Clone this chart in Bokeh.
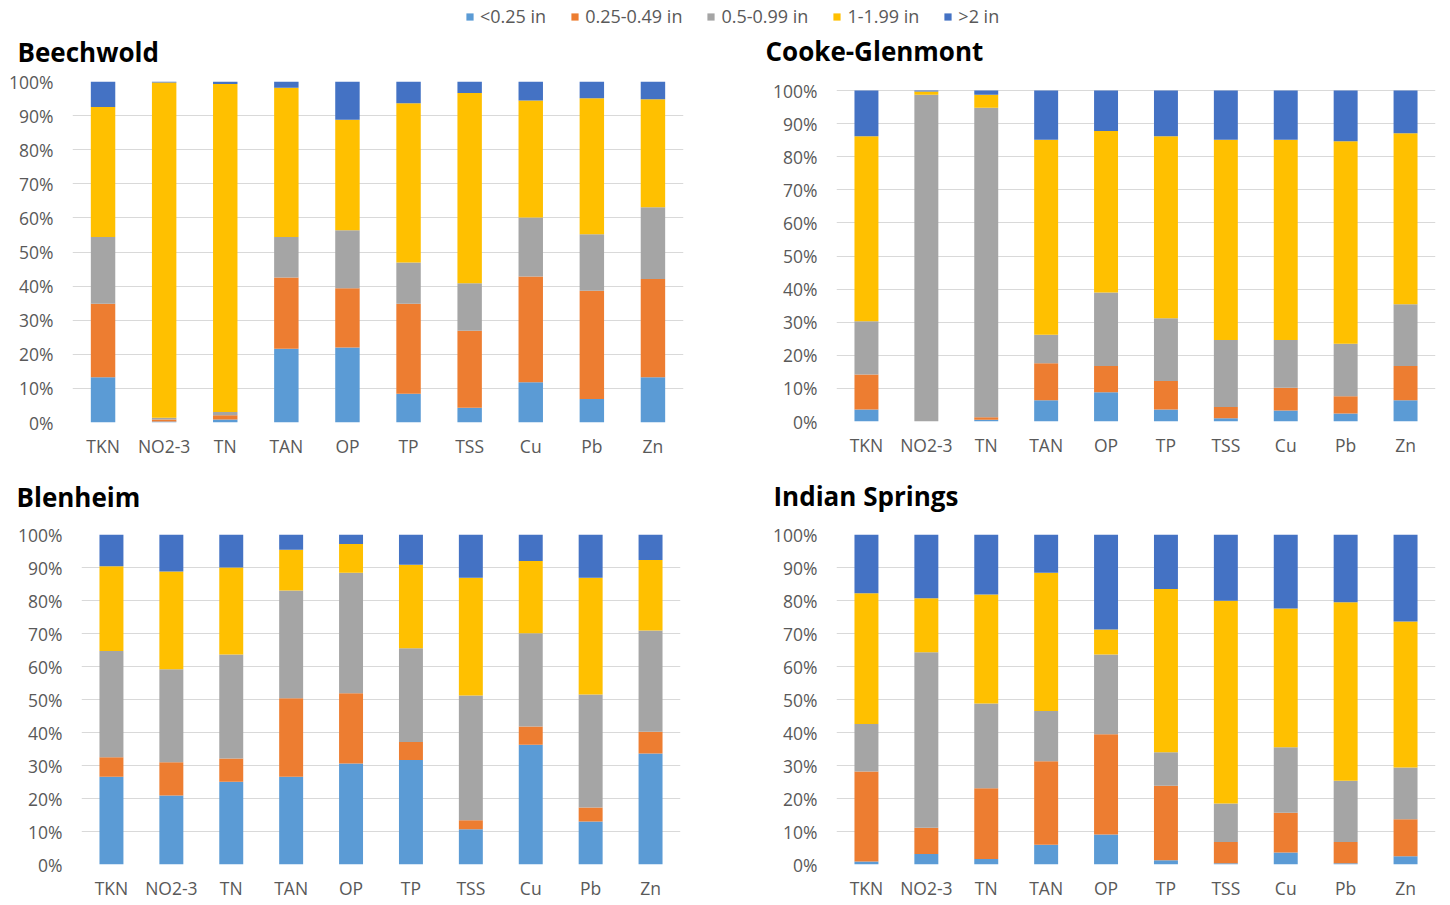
from bokeh.plotting import figure
from bokeh.layouts import column, row
from bokeh.models import (ColumnDataSource, FixedTicker, PrintfTickFormatter, Legend,
                          LegendItem, Label)
from bokeh.embed import file_html
from bokeh.resources import INLINE

params = ["TKN", "NO2-3", "TN", "TAN", "OP", "TP", "TSS", "Cu", "Pb", "Zn"]
bins = ["<0.25 in", "0.25-0.49 in", "0.5-0.99 in", "1-1.99 in", ">2 in"]
colors = ["#5B9BD5", "#ED7D31", "#A5A5A5", "#FFC000", "#4472C4"]
keys = ["b1", "b2", "b3", "b4", "b5"]
titles = ["Beechwold", "Cooke-Glenmont", "Blenheim", "Indian Springs"]

# percent of events per rainfall-depth bin (each parameter sums to ~100)
beechwold = {
    "b1": [13.3, 0.3, 0.9, 21.6, 22.0, 8.4, 4.3, 11.8, 6.9, 13.3],
    "b2": [21.5, 0.6, 1.2, 20.9, 17.4, 26.4, 22.6, 31.0, 31.7, 28.8],
    "b3": [19.6, 0.5, 1.0, 11.9, 17.0, 12.1, 13.9, 17.3, 16.6, 21.0],
    "b4": [38.1, 98.3, 96.2, 43.8, 32.4, 46.7, 55.8, 34.3, 39.9, 31.7],
    "b5": [7.5, 0.3, 0.7, 1.8, 11.2, 6.4, 3.4, 5.6, 4.9, 5.2],
}
cooke = {
    "b1": [3.6, 0.0, 0.5, 6.4, 8.8, 3.6, 1.0, 3.3, 2.4, 6.4],
    "b2": [10.6, 0.0, 0.8, 11.2, 8.0, 8.6, 3.4, 6.9, 5.2, 10.4],
    "b3": [16.1, 98.7, 93.5, 8.6, 22.2, 19.0, 20.2, 14.4, 15.9, 18.6],
    "b4": [55.9, 1.0, 3.9, 58.9, 48.8, 55.0, 60.5, 60.5, 61.2, 51.7],
    "b5": [13.8, 0.3, 1.3, 14.9, 12.2, 13.8, 14.9, 14.9, 15.3, 12.9],
}
blenheim = {
    "b1": [26.6, 20.9, 25.1, 26.6, 30.6, 31.7, 10.7, 36.3, 13.0, 33.6],
    "b2": [5.9, 10.1, 7.0, 23.8, 21.3, 5.4, 2.7, 5.5, 4.3, 6.6],
    "b3": [32.2, 28.2, 31.5, 32.6, 36.5, 28.4, 37.8, 28.3, 34.2, 30.7],
    "b4": [25.7, 29.6, 26.4, 12.4, 8.7, 25.3, 35.7, 21.9, 35.4, 21.4],
    "b5": [9.6, 11.2, 10.0, 4.6, 2.9, 9.2, 13.1, 8.0, 13.1, 7.7],
}
indian = {
    "b1": [0.9, 3.2, 1.7, 6.0, 9.1, 1.3, 0.4, 3.6, 0.4, 2.5],
    "b2": [27.3, 7.9, 21.4, 25.3, 30.4, 22.6, 6.4, 12.1, 6.4, 11.2],
    "b3": [14.4, 53.2, 25.7, 15.2, 24.1, 10.1, 11.7, 19.8, 18.6, 15.7],
    "b4": [39.6, 16.4, 33.0, 41.9, 7.6, 49.5, 61.4, 42.1, 54.1, 44.2],
    "b5": [17.8, 19.3, 18.2, 11.6, 28.8, 16.5, 20.1, 22.4, 20.5, 26.4],
}

TEXT = "#595959"
FONT = "Open Sans"
W = 1445


def panel(data, fw, fh, bl, br, bt, bb, y_end=100):
    src = dict(data)
    src["param"] = params
    p = figure(x_range=params, y_range=(0, y_end), frame_width=fw, frame_height=fh,
               output_backend="svg", toolbar_location=None,
               min_border_left=bl, min_border_right=br, min_border_top=bt, min_border_bottom=bb)
    p.vbar_stack(keys, x="param", width=0.4, color=colors, source=ColumnDataSource(src),
                 line_color=None)
    p.outline_line_color = None
    p.xgrid.grid_line_color = None
    p.ygrid.grid_line_color = "#D9D9D9"
    p.ygrid.grid_line_width = 1
    p.yaxis.ticker = FixedTicker(ticks=list(range(0, 101, 10)))
    p.yaxis.formatter = PrintfTickFormatter(format="%d%%")
    for ax in (p.xaxis[0], p.yaxis[0]):
        ax.axis_line_color = None
        ax.major_tick_line_color = None
        ax.minor_tick_line_color = None
        ax.major_tick_out = 0
        ax.major_tick_in = 0
        ax.major_label_text_font = FONT
        ax.major_label_text_font_size = "17.5px"
        ax.major_label_text_color = TEXT
    p.xaxis.major_label_standoff = 11
    p.yaxis.major_label_standoff = 19
    p.x_range.range_padding = 0
    p.background_fill_color = "white"
    p.border_fill_color = "white"
    return p


def strip(height):
    s = figure(x_range=(0, 1), y_range=(1000, 1001), width=W, height=height,
               output_backend="svg", toolbar_location=None, min_border=0)
    s.axis.visible = False
    s.grid.visible = False
    s.outline_line_color = None
    return s


def add_title(s, text, x, y):
    s.add_layout(Label(x=x, y=y, x_units="screen", y_units="screen", text=text,
                       text_font=FONT, text_font_style="bold", text_font_size="26px",
                       text_color="#000000", text_baseline="middle", text_align="left"))


# top strip: legend + titles of the upper panels
top = figure(x_range=params, y_range=(1000, 1001), width=W, height=69,
             output_backend="svg", toolbar_location=None, min_border=0)
top.axis.visible = False
top.grid.visible = False
top.outline_line_color = None
src_l = dict(beechwold)
src_l["param"] = params
rs = top.vbar_stack(keys, x="param", width=0.4, color=colors,
                    source=ColumnDataSource(src_l), line_color=None)
items = [LegendItem(label=b, renderers=[r]) for b, r in zip(bins, rs)]
leg = Legend(items=items, orientation="horizontal", location=(465, 41),
             label_text_font=FONT, label_text_font_size="18px", label_text_color=TEXT,
             glyph_width=9, glyph_height=9, label_standoff=6, spacing=24,
             label_height=18, border_line_color=None, background_fill_alpha=0,
             padding=0, margin=0)
top.add_layout(leg, "center")
add_title(top, titles[0], 17, 18)
add_title(top, titles[1], 765, 19)

mid = strip(61)
add_title(mid, titles[2], 16, 26)
add_title(mid, titles[3], 773, 27)

# Cooke-Glenmont frame is 9px taller than its 0-100% span (its bars start lower)
p1 = panel(beechwold, 611, 341, 72, 45, 12, 39)
p2 = panel(cooke, 599, 340, 108, 10, 12, 40, y_end=100 * 340 / 331)
p3 = panel(blenheim, 599, 330, 81, 48, 12, 39)
p4 = panel(indian, 599, 330, 108, 10, 12, 39)

layout = column(top, row(p1, p2), mid, row(p3, p4))
open("out.html", "w").write(file_html(layout, INLINE))
